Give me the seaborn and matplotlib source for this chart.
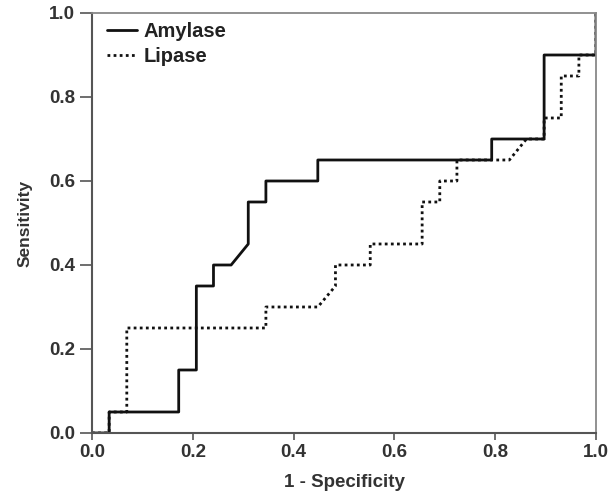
import numpy as np
import pandas as pd
import matplotlib
matplotlib.use('Agg')
import matplotlib.pyplot as plt
import seaborn as sns

# ROC curve points (1 - specificity, sensitivity)
amylase_fpr = [0, 0.034, 0.034, 0.172, 0.172, 0.207, 0.207, 0.241, 0.241, 0.276,
               0.310, 0.310, 0.345, 0.345, 0.448, 0.448, 0.793, 0.793, 0.897, 0.897,
               1.0, 1.0]
amylase_tpr = [0, 0, 0.05, 0.05, 0.15, 0.15, 0.35, 0.35, 0.40, 0.40,
               0.45, 0.55, 0.55, 0.60, 0.60, 0.65, 0.65, 0.70, 0.70, 0.90,
               0.90, 1.0]

lipase_fpr = [0, 0.034, 0.034, 0.069, 0.069, 0.345, 0.345, 0.448, 0.483, 0.483,
              0.552, 0.552, 0.655, 0.655, 0.690, 0.690, 0.724, 0.724, 0.828, 0.862,
              0.897, 0.897, 0.931, 0.931, 0.966, 0.966, 1.0, 1.0]
lipase_tpr = [0, 0, 0.05, 0.05, 0.25, 0.25, 0.30, 0.30, 0.35, 0.40,
              0.40, 0.45, 0.45, 0.55, 0.55, 0.60, 0.60, 0.65, 0.65, 0.70,
              0.70, 0.75, 0.75, 0.85, 0.85, 0.90, 0.90, 1.0]

ticks = [0.0, 0.2, 0.4, 0.6, 0.8, 1.0]
tick_labels = ['0.0', '0.2', '0.4', '0.6', '0.8', '1.0']

sns.set_style('white')
plt.rcParams['font.family'] = ['Liberation Sans', 'DejaVu Sans']

fig = plt.figure(figsize=(6.11, 4.94), dpi=100)
ax = fig.add_axes([0.1506, 0.1235, 0.8249, 0.8502])

sns.lineplot(x=amylase_fpr, y=amylase_tpr, sort=False, estimator=None,
             color='#111111', linewidth=2.0, label='Amylase', ax=ax)
sns.lineplot(x=lipase_fpr, y=lipase_tpr, sort=False, estimator=None,
             color='#111111', linewidth=2.0, linestyle=(0, (1, 1.2)),
             label='Lipase', ax=ax)

ax.set_xlim(0, 1)
ax.set_ylim(0, 1)
ax.set_xticks(ticks)
ax.set_yticks(ticks)
ax.set_xticklabels(tick_labels, fontsize=13.5, fontweight='bold', color='#333333')
ax.set_yticklabels(tick_labels, fontsize=13.5, fontweight='bold', color='#333333')
ax.tick_params(axis='both', direction='out', width=1.2, color='#555555',
               bottom=True, left=True)
ax.tick_params(axis='x', length=5, pad=3)
ax.tick_params(axis='y', length=8.5, pad=3.5)

ax.set_xlabel('1 - Specificity', fontsize=13.5, fontweight='bold', color='#333333', labelpad=9)
ax.set_ylabel('Sensitivity', fontsize=12.5, fontweight='bold', color='#333333', labelpad=12)

for side in ['left', 'bottom']:
    ax.spines[side].set_color('#555555')
    ax.spines[side].set_linewidth(1.5)
for side in ['top', 'right']:
    ax.spines[side].set_color('#888888')
    ax.spines[side].set_linewidth(1.3)

leg = ax.legend(loc='upper left', frameon=False, fontsize=14.5, handlelength=1.5,
                handletextpad=0.3, borderaxespad=0.05, labelspacing=0.28,
                bbox_to_anchor=(0.012, 1.0))
for txt in leg.get_texts():
    txt.set_fontweight('bold')
    txt.set_color('#222222')

plt.savefig('out.png', dpi=100)
plt.close('all')
